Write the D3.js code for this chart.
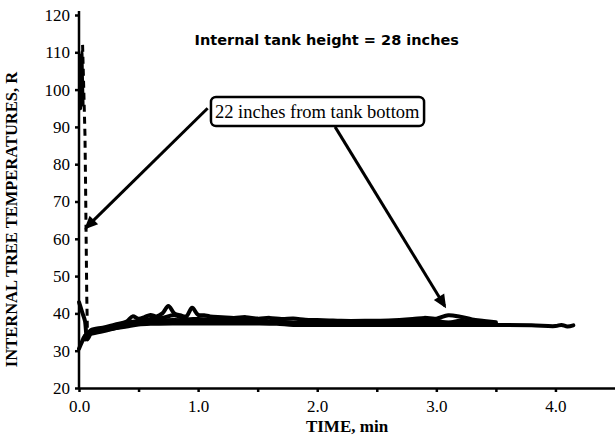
<!DOCTYPE html>
<meta charset="utf-8">
<style>
body { margin: 0; background: #fff; }
.line { fill: none; stroke: #000; stroke-width: 4px; stroke-linejoin: round; stroke-linecap: round; }
.dash { stroke-dasharray: 7,5; stroke-linecap: butt; stroke-width: 3px; }
.axis path, .axis line { stroke: #000; stroke-width: 2.5px; }
</style>
<body>
<script src="https://cdn.jsdelivr.net/npm/d3@7"></script>
<script>

// data (time in min, temperature in R)
var xTicks = [0, 1, 2, 3, 4];
var yTicks = [20, 30, 40, 50, 60, 70, 80, 90, 100, 110, 120];

var timeA = [0, 0.02, 0.05, 0.1, 0.2, 0.3, 0.4, 0.5, 0.6, 0.8, 1.0, 1.2, 1.5, 1.66, 1.8, 2.0, 2.5, 3.0, 3.5, 3.8, 4.0, 4.05, 4.1, 4.15];
var tempA = [30.5, 32, 34, 35, 35.5, 36, 36.5, 37, 37.2, 37.3, 37.3, 37.3, 37.3, 37.2, 36.9, 36.9, 36.9, 36.9, 36.9, 36.8, 36.6, 36.9, 36.5, 36.8];

var timeB = [0.05, 0.1, 0.2, 0.3, 0.4, 0.45, 0.5, 0.55, 0.6, 0.65, 0.7, 0.75, 0.8, 0.85, 0.9, 0.95, 1.0, 1.05, 1.1, 1.2, 1.3, 1.4, 1.5, 1.6, 1.7, 1.8, 1.9, 2.0, 2.1, 2.2, 2.4, 2.6, 2.8, 2.9, 3.0, 3.1, 3.2, 3.3, 3.4, 3.5];
var tempB = [33, 35.5, 36.2, 37, 37.8, 39.2, 38.6, 39, 39.6, 39.2, 40, 42, 40, 39.5, 39.2, 41.5, 39.6, 39.5, 39.2, 39, 38.8, 39, 38.6, 38.8, 38.5, 38.6, 38.3, 38.2, 38.1, 38, 38, 38.1, 38.5, 38.8, 38.6, 39.5, 39.1, 38.4, 38, 37.6];

var timeC = [0.05, 0.1, 0.2, 0.3, 0.4, 0.5, 0.6, 0.7, 0.8, 0.9, 1.0, 1.2, 1.4, 1.6, 1.8, 2.0, 2.2, 2.5, 2.8, 3.0, 3.1, 3.2, 3.3, 3.4, 3.5];
var tempC = [34, 35, 35.8, 36.5, 37.5, 38, 38.5, 38.8, 39.5, 38.5, 38.5, 38.2, 38, 37.8, 37.5, 37.5, 37.3, 37.4, 37.8, 38, 37.5, 38, 37.6, 37.3, 37.1];

var timeE = [0.1, 0.2, 0.3, 0.4, 0.5, 0.6, 0.8, 1.0, 1.2, 1.4, 1.6, 1.8, 2.0, 2.3, 2.6, 2.9, 3.2, 3.5];
var tempE = [34.5, 35.2, 36, 36.8, 37.6, 38, 38.2, 38, 37.9, 37.8, 37.7, 37.5, 37.4, 37.4, 37.5, 37.6, 37.5, 37.2];

var timeD = [0, 0.01, 0.03, 0.05, 0.07, 0.1];
var tempD = [43, 42, 40, 38, 33, 35];

var timeSpike = [0.01, 0.02, 0.025, 0.03];
var tempSpike = [95, 110, 103, 96];

var timeDash = [0.03, 0.04, 0.05, 0.055, 0.06, 0.065, 0.07, 0.08];
var tempDash = [112, 100, 88, 75, 60, 45, 36, 34];

var serif = "'Liberation Serif', 'Times New Roman', Times, serif";

var margin = {top: 15, right: 0, bottom: 52, left: 79},
    width = 615 - margin.left - margin.right,
    height = 440 - margin.top - margin.bottom;

var x = d3.scaleLinear().domain([0, 4.5]).range([0, width]);
var y = d3.scaleLinear().domain([20, 120]).range([height, 0]);

var line = d3.line()
    .x(function(d) { return x(d[0]); })
    .y(function(d) { return y(d[1]); })
    .curve(d3.curveCatmullRom);

var svg = d3.select("body").append("svg")
    .attr("width", 615)
    .attr("height", 440)
  .append("g")
    .attr("transform", "translate(" + margin.left + "," + margin.top + ")");

// arrowhead
svg.append("defs").append("marker")
    .attr("id", "head")
    .attr("viewBox", "0 0 10 10")
    .attr("refX", 8).attr("refY", 5)
    .attr("markerWidth", 5).attr("markerHeight", 4.5)
    .attr("orient", "auto")
  .append("path")
    .attr("d", "M0,0.5L10,5L0,9.5Z");

// x axis
svg.append("g")
    .attr("class", "axis")
    .attr("transform", "translate(0," + height + ")")
    .call(d3.axisBottom(x).tickValues(xTicks).tickFormat(d3.format(".1f")).tickSize(4).tickSizeOuter(0))
    .call(function(g) { g.selectAll("text").attr("dy", "1.0em"); });

svg.append("g")
    .attr("class", "axis")
    .attr("transform", "translate(0," + height + ")")
    .call(d3.axisBottom(x).tickValues([0.5, 1.5, 2.5, 3.5]).tickFormat("").tickSize(4).tickSizeOuter(0))
    .call(function(g) { g.select(".domain").remove(); });

// y axis
svg.append("g")
    .attr("class", "axis")
    .call(d3.axisLeft(y).tickValues(yTicks).tickSize(4).tickPadding(5).tickSizeOuter(0))
    .call(function(g) { g.select(".domain").attr("d", "M0," + (y(120) - 4) + "V" + height); });

svg.selectAll(".axis")
    .attr("font-family", serif)
    .attr("font-size", 17);

function zip(t, v) { return t.map(function(d, i) { return [d, v[i]]; }); }

[zip(timeA, tempA), zip(timeB, tempB), zip(timeC, tempC), zip(timeE, tempE), zip(timeD, tempD), zip(timeSpike, tempSpike)].forEach(function(s) {
  svg.append("path").datum(s).attr("class", "line").attr("d", line);
});

svg.append("path").datum(zip(timeDash, tempDash))
    .attr("class", "line dash")
    .attr("d", d3.line().x(function(d) { return x(d[0]); }).y(function(d) { return y(d[1]); }));

// annotation
var box = {t: 2.0, v: 94};
var a1 = {from: [1.08, 95], to: [0.06, 63]};
var a2 = {from: [2.15, 90], to: [3.07, 42]};

[a1, a2].forEach(function(a) {
  svg.append("line")
      .attr("x1", x(a.from[0])).attr("y1", y(a.from[1]))
      .attr("x2", x(a.to[0])).attr("y2", y(a.to[1]))
      .attr("stroke", "#000").attr("stroke-width", 3)
      .attr("marker-end", "url(#head)");
});

var boxG = svg.append("g");
var boxRect = boxG.append("rect");
var label = boxG.append("text")
    .attr("x", x(box.t)).attr("y", y(box.v))
    .attr("text-anchor", "middle")
    .attr("dy", "0.35em")
    .attr("font-family", serif)
    .attr("font-size", 18.5)
    .text("22 inches from tank bottom");
var bb = label.node().getBBox();
boxRect
    .attr("x", bb.x - 4).attr("y", y(box.v) - 15)
    .attr("width", bb.width + 8).attr("height", 29)
    .attr("rx", 5)
    .attr("fill", "#fff").attr("stroke", "#000").attr("stroke-width", 2.5);

svg.append("text")
    .attr("x", x(2.08)).attr("y", 30)
    .attr("text-anchor", "middle")
    .attr("font-family", "'DejaVu Sans', Verdana, sans-serif")
    .attr("font-weight", "bold")
    .attr("font-size", 14.5)
    .text("Internal tank height = 28 inches");

svg.append("text")
    .attr("text-anchor", "middle")
    .attr("transform", "translate(" + (x(2.25)) + "," + (height + 44) + ")")
    .attr("font-family", serif)
    .attr("font-weight", "bold")
    .attr("font-size", 17)
    .text("TIME, min");

svg.append("text")
    .attr("text-anchor", "middle")
    .attr("transform", "translate(" + (-62) + "," + (y(70) + 18) + ")rotate(-90)")
    .attr("font-family", serif)
    .attr("font-weight", "bold")
    .attr("font-size", 16.5)
    .text("INTERNAL TREE TEMPERATURES, R");

</script>
</body>
</html>
